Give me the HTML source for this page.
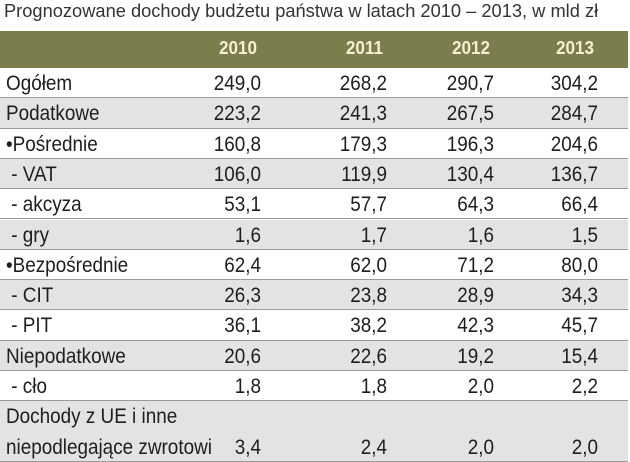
<!DOCTYPE html>
<html><head><meta charset="utf-8"><style>
body{margin:0;width:630px;height:462px;background:#fff;overflow:hidden;position:relative;font-family:"Liberation Sans Narrow","Liberation Sans",sans-serif;color:#1e1e1e}
.t{position:absolute;white-space:nowrap}
#title{left:4px;top:1px;font-size:18px;color:#333;transform-origin:left top;transform:scaleX(1.015)}
#hdr{position:absolute;left:0;top:31px;width:628px;height:37px;background:#7b7d4d}
.row{position:absolute;left:0;width:628px;border-bottom:1.5px solid #9a9a9a;box-sizing:border-box}
.lbl{font-size:21px;transform-origin:left top;transform:scaleX(0.9)}
.val{font-size:21px;text-align:right;transform-origin:right top;transform:scaleX(0.9)}
.yr{font-size:18px;font-weight:bold;color:#f4f0d2;text-align:right;transform-origin:right top;transform:scaleX(0.95)}
</style></head><body>
<div class="t" id="title">Prognozowane dochody budżetu państwa w latach 2010 – 2013, w mld zł</div>
<div id="hdr"></div>
<script>
const years=['2010','2011','2012','2013'];
const labels=['Ogółem','Podatkowe','•Pośrednie',' - VAT',' - akcyza',' - gry','•Bezpośrednie',' - CIT',' - PIT','Niepodatkowe',' - cło','Dochody z UE i inne|niepodlegające zwrotowi'];
const v2010=['249,0','223,2','160,8','106,0','53,1','1,6','62,4','26,3','36,1','20,6','1,8','3,4'];
const v2011=['268,2','241,3','179,3','119,9','57,7','1,7','62,0','23,8','38,2','22,6','1,8','2,4'];
const v2012=['290,7','267,5','196,3','130,4','64,3','1,6','71,2','28,9','42,3','19,2','2,0','2,0'];
const v2013=['304,2','284,7','204,6','136,7','66,4','1,5','80,0','34,3','45,7','15,4','2,2','2,0'];
const series=[v2010,v2011,v2012,v2013];
const colRight=[261,387,494,598];
const top0=68, rh=30.3;
function add(cls,txt,x,y,w,align){const d=document.createElement('div');d.className='t '+cls;d.textContent=txt;d.style.top=y+'px';
 if(align==='r'){d.style.left=(x-w)+'px';d.style.width=w+'px';}else d.style.left=x+'px';document.body.appendChild(d);return d;}
years.forEach((y,i)=>{const d=add('yr',y,colRight[i]-4,38,80,'r');

});
labels.forEach((l,r)=>{
 const two=l.includes('|');const top=top0+r*rh;const h=two?462-top:rh;
 const row=document.createElement('div');row.className='row';row.style.top=top+'px';row.style.height=h+'px';
 row.style.background=r%2?'#e3e3e3':'#fff';
 
 
 document.body.insertBefore(row,document.querySelector('script'));
 const parts=l.split('|');
 parts.forEach((p,k)=>{const d=add('lbl',p.replace(/^ /,'\u00a0'),6,top+4+k*30.5);
  
  });
 const vy=two?top+34.5:top+4;
 series.forEach((s,c)=>{const d=add('val',s[r],colRight[c],vy,90,'r');
  
  });
});
</script>
</body></html>
